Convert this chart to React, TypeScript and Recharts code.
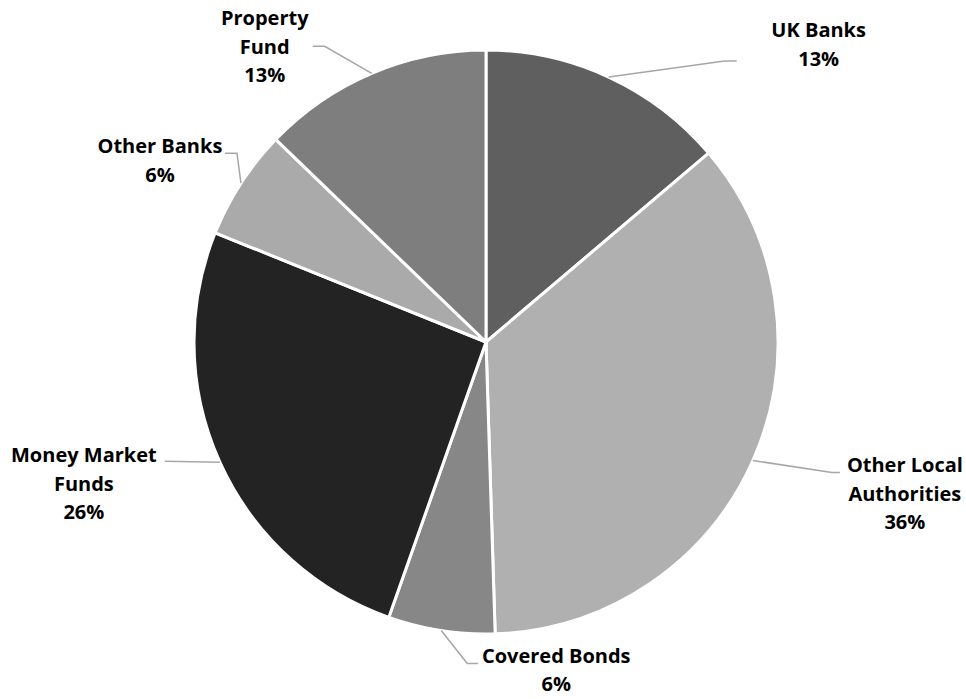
import React from 'react';
import { PieChart, Pie, Cell } from 'recharts';

// slice order, clockwise from 12 o'clock
const categories = ['UK Banks', 'Other Local Authorities', 'Covered Bonds', 'Money Market Funds', 'Other Banks', 'Property Fund'];
const shares = [13.8, 35.7, 5.9, 25.7, 6.1, 12.8];
const shareLabels = ['13%', '36%', '6%', '26%', '6%', '13%'];
const labelLines = [['UK Banks'], ['Other Local', 'Authorities'], ['Covered Bonds'], ['Money Market', 'Funds'], ['Other Banks'], ['Property', 'Fund']];

const fills = ['#5f5f5f', '#b0b0b0', '#878787', '#232323', '#aaaaaa', '#7e7e7e'];

// manual label placement, offsets from the slice's mid point on the rim
const layout = [
  { bend: [116, -16], end: [128, -16], text: [210, -40] },
  { bend: [79, 12], end: [87, 12], text: [152, 12] },
  { bend: [26, 33], end: [37, 33], text: [115, 32] },
  { bend: [-55, -1], end: [-55, -1], text: [-136, 0] },
  { bend: [-4, -30], end: [-16, -30], text: [-81, -30] },
  { bend: [-47, -27], end: [-59, -27], text: [-107, -48] },
];

const data = categories.map((name, i) => ({ name, value: shares[i] }));

const RADIAN = Math.PI / 180;
const LINE_H = 28.5;

const renderLabel = (props: any) => {
  const { cx, cy, midAngle, outerRadius, index } = props;
  const ax = cx + outerRadius * Math.cos(-midAngle * RADIAN);
  const ay = cy + outerRadius * Math.sin(-midAngle * RADIAN);
  const l = layout[index];
  const lines = [...labelLines[index], shareLabels[index]];
  const pts = [[ax, ay], [ax + l.bend[0], ay + l.bend[1]], [ax + l.end[0], ay + l.end[1]]];
  return (
    <g key={`lbl-${index}`}>
      <polyline points={pts.map(p => p.join(',')).join(' ')} fill="none" stroke="#a6a6a6" strokeWidth={1.5} />
      <text
        x={ax + l.text[0]}
        y={ay + l.text[1]}
        textAnchor="middle"
        fontFamily="'Open Sans', sans-serif"
        fontWeight="bold"
        fontSize={20}
        fill="#000"
      >
        {lines.map((t, j) => (
          <tspan key={j} x={ax + l.text[0]} y={ay + l.text[1] + j * LINE_H}>{t}</tspan>
        ))}
      </text>
    </g>
  );
};

export default function App() {
  return (
    <div style={{ position: 'absolute', left: 0, top: 0, width: 966, height: 699, background: '#fff' }}>
      <PieChart width={966} height={699} margin={{ top: 0, right: 0, bottom: 0, left: 0 }}>
        <Pie
          data={data}
          dataKey="value"
          nameKey="name"
          cx={486}
          cy={342}
          outerRadius={292}
          startAngle={90}
          endAngle={-270}
          stroke="#ffffff"
          strokeWidth={3}
          label={renderLabel}
          labelLine={false}
          isAnimationActive={false}
        >
          {data.map((d, i) => (
            <Cell key={d.name} fill={fills[i]} />
          ))}
        </Pie>
      </PieChart>
    </div>
  );
}
